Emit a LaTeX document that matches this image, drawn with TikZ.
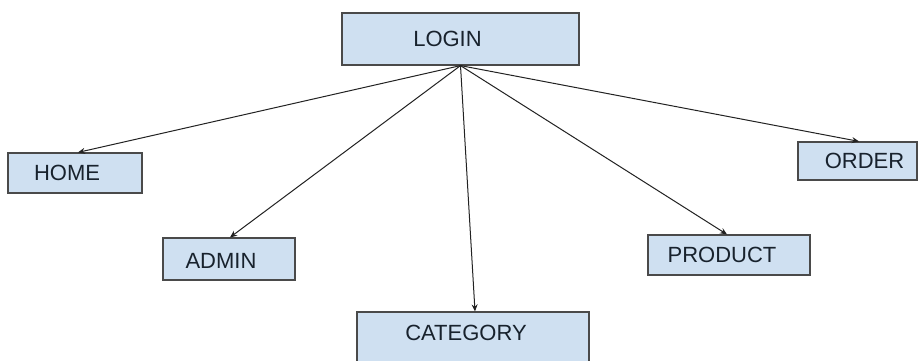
\documentclass[tikz,border=0pt]{standalone}
\usepackage{fontspec}
\setmainfont{Liberation Sans}
\usetikzlibrary{arrows.meta}
\definecolor{boxfill}{HTML}{CFE0F1}
\definecolor{boxline}{HTML}{4A4A4A}
\definecolor{txt}{HTML}{18222D}
\definecolor{arr}{HTML}{222222}
\tikzset{
  box/.style={draw=boxline, fill=boxfill, line width=1.2pt, rectangle, inner sep=0pt},
  lbl/.style={text=txt, font=\fontsize{22}{25}\selectfont, inner sep=0pt},
  conn/.style={draw=arr, line width=1pt, -{Stealth[length=7pt,width=6pt]}}
}
\begin{document}
\begin{tikzpicture}[x=1pt,y=-1pt]
\useasboundingbox (0,0) rectangle (918,360);
\clip (0,0) rectangle (918,360);
\fill[white] (0,0) rectangle (918,360);
\node[box, minimum width=237pt, minimum height=52pt, label={[lbl,xshift=-13pt]center:LOGIN}] (login) at (460.5,39) {};
\node[box, minimum width=134pt, minimum height=40pt, label={[lbl,xshift=-8pt]center:HOME}] (home) at (75,173) {};
\node[box, minimum width=132pt, minimum height=42pt, label={[lbl,xshift=-8pt,yshift=-2pt]center:ADMIN}] (admin) at (229,259) {};
\node[box, minimum width=232pt, minimum height=60pt, label={[lbl,xshift=-7pt,yshift=9pt]center:CATEGORY}] (category) at (473,342) {};
\node[box, minimum width=162pt, minimum height=40pt, label={[lbl,xshift=-7pt]center:PRODUCT}] (product) at (729,255) {};
\node[box, minimum width=119pt, minimum height=38pt, label={[lbl,xshift=7pt]center:ORDER}] (order) at (857.5,161) {};
\draw[conn] (login.south) -- ([xshift=3pt]home.north);
\draw[conn] (login.south) -- ([xshift=1pt]admin.north);
\draw[conn] (login.south) -- ([xshift=2pt]category.north);
\draw[conn] (login.south) -- ([xshift=-2pt]product.north);
\draw[conn] (login.south) -- ([xshift=1.5pt]order.north);
\end{tikzpicture}
\end{document}
